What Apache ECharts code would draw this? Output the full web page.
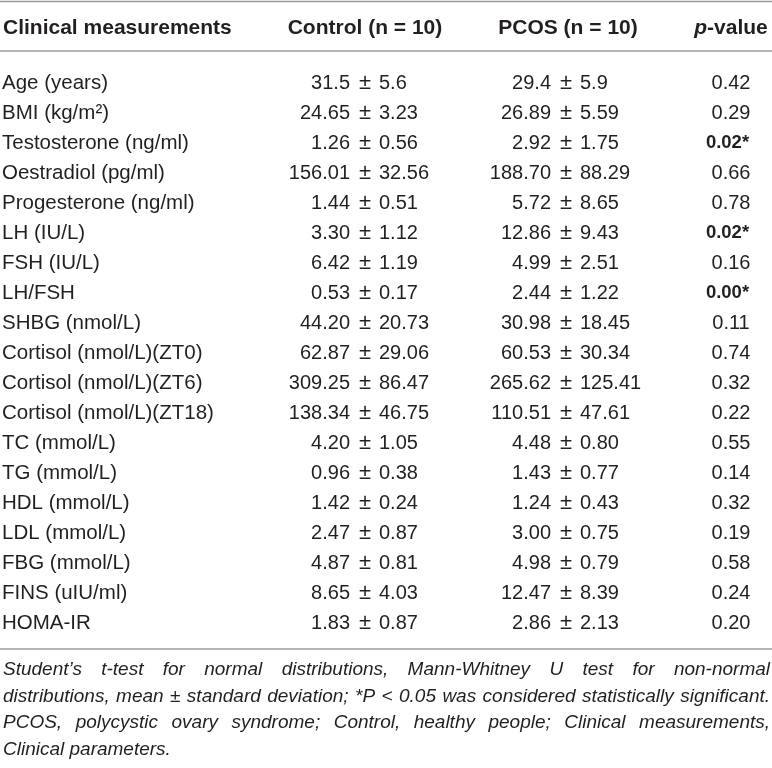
<!DOCTYPE html>
<html>
<head>
<meta charset="utf-8">
<script src="https://cdn.jsdelivr.net/npm/echarts@6/dist/echarts.min.js"></script>
<style>
html,body{margin:0;padding:0;background:#fff;}
#c{width:772px;height:768px;}
</style>
</head>
<body>
<div id="c"></div>
<script>
// ---------- data ----------
const headers = ['Clinical measurements', 'Control (n = 10)', 'PCOS (n = 10)', 'p-value'];
const measurements = [
  'Age (years)', 'BMI (kg/m²)', 'Testosterone (ng/ml)', 'Oestradiol (pg/ml)', 'Progesterone (ng/ml)',
  'LH (IU/L)', 'FSH (IU/L)', 'LH/FSH', 'SHBG (nmol/L)', 'Cortisol (nmol/L)(ZT0)',
  'Cortisol (nmol/L)(ZT6)', 'Cortisol (nmol/L)(ZT18)', 'TC (mmol/L)', 'TG (mmol/L)', 'HDL (mmol/L)',
  'LDL (mmol/L)', 'FBG (mmol/L)', 'FINS (uIU/ml)', 'HOMA-IR'
];
const controlMean = ['31.5','24.65','1.26','156.01','1.44','3.30','6.42','0.53','44.20','62.87','309.25','138.34','4.20','0.96','1.42','2.47','4.87','8.65','1.83'];
const controlSd   = ['5.6','3.23','0.56','32.56','0.51','1.12','1.19','0.17','20.73','29.06','86.47','46.75','1.05','0.38','0.24','0.87','0.81','4.03','0.87'];
const pcosMean    = ['29.4','26.89','2.92','188.70','5.72','12.86','4.99','2.44','30.98','60.53','265.62','110.51','4.48','1.43','1.24','3.00','4.98','12.47','2.86'];
const pcosSd      = ['5.9','5.59','1.75','88.29','8.65','9.43','2.51','1.22','18.45','30.34','125.41','47.61','0.80','0.77','0.43','0.75','0.79','8.39','2.13'];
const pValues     = ['0.42','0.29','0.02','0.66','0.78','0.02','0.16','0.00','0.11','0.74','0.32','0.22','0.55','0.14','0.32','0.19','0.58','0.24','0.20'];
const footnoteLines = [
  'Student’s t-test for normal distributions, Mann-Whitney U test for non-normal',
  'distributions, mean ± standard deviation; *P < 0.05 was considered statistically significant.',
  'PCOS, polycystic ovary syndrome; Control, healthy people; Clinical measurements,',
  'Clinical parameters.'
];

// ---------- layout / style ----------
const FONT = '"Liberation Sans", Arial, Helvetica, sans-serif';
const INK = '#231f20';
const RULE = '#9b9b9b';
const NAME_X = 2, CTRL_PM = 365, PCOS_PM = 566, P_X = 731;
const PM_GAP_L = 15, PM_GAP_R = 14;

function txt(x, y, text, opt) {
  return {
    type: 'text', x: x, y: y, silent: true,
    style: Object.assign({ text: text, fill: INK, font: '20px ' + FONT, align: 'left', verticalAlign: 'middle' }, opt || {})
  };
}

function renderRow(params, api) {
  const i = api.value(1);
  const y = api.coord([0, i])[1];
  const x0 = params.coordSys.x;
  const sig = parseFloat(pValues[i]) < 0.05;
  const children = [
    txt(x0 + NAME_X, y, measurements[i], { font: '20.5px ' + FONT }),
    txt(x0 + CTRL_PM - PM_GAP_L, y, controlMean[i], { align: 'right' }),
    txt(x0 + CTRL_PM, y, '±', { align: 'center', font: '22px ' + FONT }),
    txt(x0 + CTRL_PM + PM_GAP_R, y, controlSd[i]),
    txt(x0 + PCOS_PM - PM_GAP_L, y, pcosMean[i], { align: 'right' }),
    txt(x0 + PCOS_PM, y, '±', { align: 'center', font: '22px ' + FONT }),
    txt(x0 + PCOS_PM + PM_GAP_R, y, pcosSd[i]),
    txt(x0 + P_X - (sig ? 3.5 : 0), y, sig ? pValues[i] + '*' : pValues[i],
        { align: 'center', font: (sig ? 'bold 18.5px ' : '20px ') + FONT })
  ];
  return { type: 'group', children: children };
}

// footnote lines: justified like the source
const mctx = document.createElement('canvas').getContext('2d');
function footLine(text, y, justify) {
  const font = 'italic 19px ' + FONT;
  mctx.font = font;
  const L = 3, R = 770, target = R - L;
  const natural = mctx.measureText(text).width;
  const base = { fill: INK, font: font, verticalAlign: 'middle', align: 'left' };
  if (!justify) return [{ type: 'text', x: L, y: y, silent: true, style: Object.assign({ text: text }, base) }];
  if (natural > target) {
    return [{ type: 'text', x: L, y: y, scaleX: target / natural, silent: true, style: Object.assign({ text: text }, base) }];
  }
  const words = text.split(' ');
  const widths = words.map(w => mctx.measureText(w).width);
  const sum = widths.reduce((a, b) => a + b, 0);
  const gap = (target - sum) / (words.length - 1);
  const out = [];
  let x = L;
  words.forEach((w, k) => {
    out.push({ type: 'text', x: x, y: y, silent: true, style: Object.assign({ text: w }, base) });
    x += widths[k] + gap;
  });
  return out;
}

const graphics = [
  { type: 'line', silent: true, shape: { x1: 0, y1: 1.5, x2: 772, y2: 1.5 }, style: { stroke: RULE, lineWidth: 1.5 } },
  { type: 'line', silent: true, shape: { x1: 0, y1: 51, x2: 772, y2: 51 }, style: { stroke: RULE, lineWidth: 1.5 } },
  { type: 'line', silent: true, shape: { x1: 0, y1: 649, x2: 772, y2: 649 }, style: { stroke: RULE, lineWidth: 1.5 } },
  txt(3, 28, headers[0], { font: 'bold 21px ' + FONT }),
  txt(365, 28, headers[1], { font: 'bold 21px ' + FONT, align: 'center' }),
  txt(568, 28, headers[2], { font: 'bold 21px ' + FONT, align: 'center' }),
  txt(731, 28, '{i|p}' + headers[3].slice(1), {
    font: 'bold 21px ' + FONT, align: 'center',
    rich: { i: { fontStyle: 'italic', fontWeight: 'bold', fontSize: 21, fontFamily: FONT, fill: INK } }
  })
];
const footY = [670, 697, 723, 750];
footnoteLines.forEach((t, k) => {
  footLine(t, footY[k], k < footnoteLines.length - 1).forEach(g => graphics.push(g));
});

const chart = echarts.init(document.getElementById('c'), null, { renderer: 'canvas' });
chart.setOption({
  animation: false,
  backgroundColor: '#ffffff',
  grid: { left: 0, right: 0, top: 68, height: 570 },
  xAxis: { type: 'value', min: 0, max: 1, show: false },
  yAxis: { type: 'category', data: measurements, inverse: true, show: false },
  series: [{
    type: 'custom',
    coordinateSystem: 'cartesian2d',
    silent: true,
    encode: { x: 0, y: 1 },
    data: measurements.map((m, i) => [0, i]),
    renderItem: renderRow
  }],
  graphic: graphics
});
</script>
</body>
</html>
